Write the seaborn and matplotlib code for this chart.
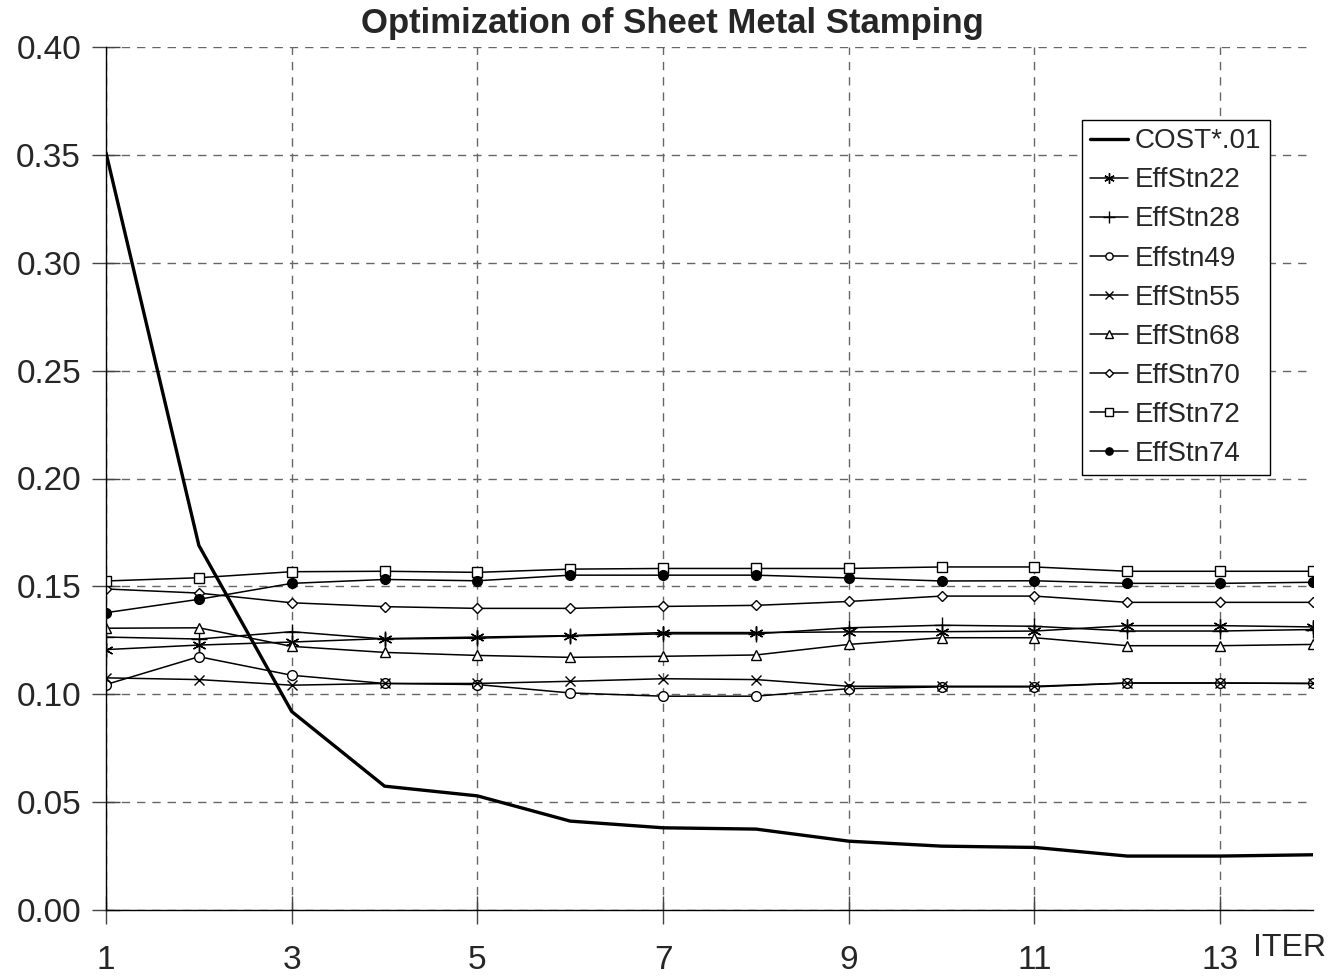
import numpy as np
import pandas as pd
import matplotlib
matplotlib.use("Agg")
import matplotlib.pyplot as plt
import seaborn as sns

iters = list(range(1, 15))
cost = [0.351, 0.169, 0.092, 0.0574, 0.0529, 0.0412, 0.0381, 0.0375, 0.0319, 0.0296, 0.029, 0.025, 0.025, 0.0256]
eff22 = [0.1207, 0.1228, 0.1242, 0.1258, 0.1265, 0.1272, 0.1286, 0.1286, 0.1289, 0.129, 0.1293, 0.1318, 0.1318, 0.1312]
eff28 = [0.1265, 0.1256, 0.129, 0.1256, 0.126, 0.127, 0.128, 0.128, 0.1308, 0.132, 0.1315, 0.1293, 0.1293, 0.13]
eff49 = [0.1045, 0.1174, 0.1088, 0.105, 0.1045, 0.1006, 0.0991, 0.0991, 0.1026, 0.1034, 0.1034, 0.1052, 0.1052, 0.105]
eff55 = [0.1076, 0.1068, 0.1042, 0.105, 0.105, 0.106, 0.1072, 0.1068, 0.1037, 0.1037, 0.1037, 0.1052, 0.1052, 0.105]
eff68 = [0.1306, 0.1308, 0.1222, 0.1194, 0.118, 0.1171, 0.1176, 0.1182, 0.1231, 0.1262, 0.1262, 0.1225, 0.1225, 0.1231]
eff70 = [0.1488, 0.1469, 0.1424, 0.1406, 0.1398, 0.1398, 0.1407, 0.1412, 0.143, 0.1455, 0.1455, 0.1426, 0.1426, 0.1426]
eff72 = [0.1525, 0.154, 0.1568, 0.157, 0.1565, 0.158, 0.1583, 0.1583, 0.1583, 0.159, 0.159, 0.157, 0.157, 0.157]
eff74 = [0.1378, 0.144, 0.1514, 0.1532, 0.1526, 0.1552, 0.1552, 0.1552, 0.1539, 0.1525, 0.1526, 0.1514, 0.1514, 0.1519]

series_names = ["COST*.01", "EffStn22", "EffStn28", "Effstn49", "EffStn55",
                "EffStn68", "EffStn70", "EffStn72", "EffStn74"]
series_vals = [cost, eff22, eff28, eff49, eff55, eff68, eff70, eff72, eff74]
x_ticks = [1, 3, 5, 7, 9, 11, 13]
y_ticks = [0.00, 0.05, 0.10, 0.15, 0.20, 0.25, 0.30, 0.35, 0.40]

sns.set_theme(style="white")
plt.rcParams['font.family'] = ['Liberation Sans', 'DejaVu Sans']

fig = plt.figure(figsize=(13.29, 9.76), dpi=100)
ax = fig.add_axes([106/1329, 1-910/976, (1313-106)/1329, (910-47)/976])

styles = {
    "COST*.01": dict(marker=None, lw=2.4),
    "EffStn22": dict(marker=(6, 2, 0), ms=10, mfc='black', lw=1.1),
    "EffStn28": dict(marker='+', ms=11, mfc='black', lw=1.1),
    "Effstn49": dict(marker='o', ms=7, mfc='white', lw=1.1),
    "EffStn55": dict(marker='x', ms=7.5, mfc='black', lw=1.1),
    "EffStn68": dict(marker='^', ms=7.5, mfc='white', lw=1.1),
    "EffStn70": dict(marker='D', ms=5.5, mfc='white', lw=1.1),
    "EffStn72": dict(marker='s', ms=7, mfc='white', lw=1.1),
    "EffStn74": dict(marker='o', ms=7, mfc='black', lw=1.1),
}

for name, vals in zip(series_names, series_vals):
    df = pd.DataFrame({"ITER": iters, "val": vals})
    st = styles[name]
    kw = dict(color='black', linewidth=st['lw'], label=name)
    if st['marker'] is not None:
        kw.update(marker=st['marker'], markersize=st['ms'],
                  markerfacecolor=st['mfc'], markeredgecolor='black',
                  markeredgewidth=1.0)
    sns.lineplot(data=df, x="ITER", y="val", ax=ax, **kw)

ax.set_xlim(1, 14)
ax.set_ylim(0, 0.40)
ax.set_xticks(x_ticks)
ax.set_xticklabels([str(t) for t in x_ticks], fontsize=24)
ax.set_yticks(y_ticks)
ax.set_yticklabels([f"{t:.2f}" for t in y_ticks], fontsize=24)
ax.tick_params(axis='y', direction='inout', length=20, width=1, color='#444444', pad=8, left=True)
ax.tick_params(axis='x', direction='inout', length=20, width=1, color='#444444', pad=15, bottom=True)

ax.grid(True, linestyle=(0, (6, 5)), color='#666666', linewidth=1.0)
for s in ['top', 'right']:
    ax.spines[s].set_visible(False)
for s in ['left', 'bottom']:
    ax.spines[s].set_color('black')
    ax.spines[s].set_linewidth(1.0)

ax.set_xlabel("")
ax.set_ylabel("")
ax.text((1326-106)/1207, -(933-910)/863, "ITER", transform=ax.transAxes,
        ha='right', va='top', fontsize=23)

fig.suptitle("Optimization of Sheet Metal Stamping", x=672/1329, y=1-7/976,
             ha='center', va='top', fontsize=25, fontweight='bold')

leg = ax.legend(loc='upper left', bbox_to_anchor=((1082-106)/1207, (910-120)/863),
                fontsize=20, frameon=True, fancybox=False, shadow=False,
                handlelength=1.35, handletextpad=0.25, labelspacing=0.47,
                borderpad=0.3, borderaxespad=0, markerscale=0.75)
leg.get_frame().set_edgecolor('black')
leg.get_frame().set_linewidth(1.0)
leg.get_frame().set_alpha(1)

fig.savefig("out.png", dpi=100)
